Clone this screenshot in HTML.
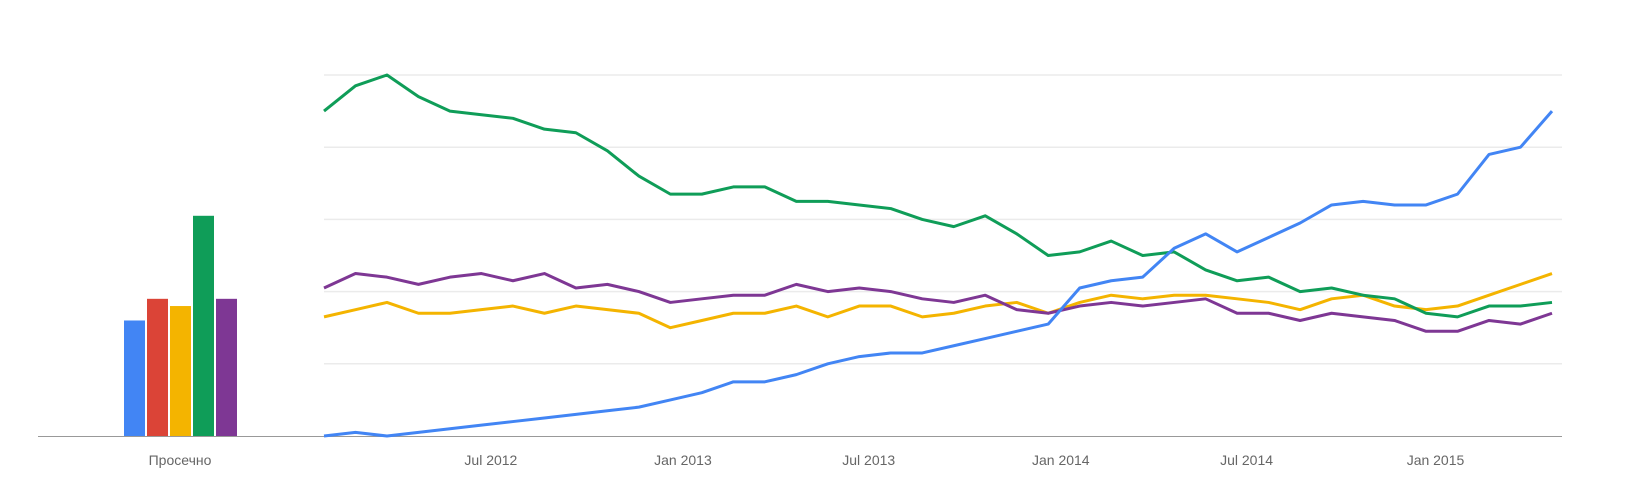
<!DOCTYPE html>
<html><head><meta charset="utf-8"><style>
html,body{margin:0;padding:0;background:#fff;}
svg{display:block;font-family:"Liberation Sans",Arial,sans-serif;}
</style></head><body>
<svg id="chart" width="1644" height="502" viewBox="0 0 1644 502" xmlns="http://www.w3.org/2000/svg"></svg>
<script>
const avgLabels = ['blue','red','yellow','green','purple'];
const avgValues = [32, 38, 36, 61, 38];
const avgColors = ['#4285f4','#db4437','#f4b400','#0f9d58','#7e3794'];
const gridValues = [20, 40, 60, 80, 100];
const xTickLabels = ['Jul 2012','Jan 2013','Jul 2013','Jan 2014','Jul 2014','Jan 2015'];
const xTickIndex = [5.3, 11.4, 17.3, 23.4, 29.3, 35.3];
const blueSeries = [0,1,0,1,2,3,4,5,6,7,8,10,12,15,15,17,20,22,23,23,25,27,29,31,41,43,44,52,56,51,55,59,64,65,64,64,67,78,80,90];
const greenSeries = [90,97,100,94,90,89,88,85,84,79,72,67,67,69,69,65,65,64,63,60,58,61,56,50,51,54,50,51,46,43,44,40,41,39,38,34,33,36,36,37];
const yellowSeries = [33,35,37,34,34,35,36,34,36,35,34,30,32,34,34,36,33,36,36,33,34,36,37,34,37,39,38,39,39,38,37,35,38,39,36,35,36,39,42,45];
const purpleSeries = [41,45,44,42,44,45,43,45,41,42,40,37,38,39,39,42,40,41,40,38,37,39,35,34,36,37,36,37,38,34,34,32,34,33,32,29,29,32,31,34];

const NS='http://www.w3.org/2000/svg';
const svg=document.getElementById('chart');
const baseY=436, plotTop=75, x0=324, x1=1552;
const yS=v=>baseY-(v/100)*(baseY-plotTop);
const n=blueSeries.length;
const xS=i=>x0+i*(x1-x0)/(n-1);
function mk(tag,attrs){const e=document.createElementNS(NS,tag);for(const k in attrs)e.setAttribute(k,attrs[k]);svg.appendChild(e);return e;}

gridValues.forEach(v=>{
  const g=mk('line',{x1:x0,x2:x1+10,y1:yS(v),y2:yS(v),stroke:'#ebebeb','stroke-width':1.5});
  
  
});
const bl=mk('line',{x1:38,x2:x1+10,y1:baseY+0.5,y2:baseY+0.5,stroke:'#999','stroke-width':1});



avgValues.forEach((v,i)=>{
  const bx=124+i*23;
  const r=mk('rect',{x:bx,y:yS(v),width:21,height:baseY-yS(v),fill:avgColors[i]});
  
  
});
const al=mk('text',{x:180,y:465,'text-anchor':'middle','font-size':14,fill:'#666'});
al.textContent='Просечно';



xTickLabels.forEach((t,i)=>{
  const e=mk('text',{x:xS(xTickIndex[i]),y:465,'text-anchor':'middle','font-size':14,fill:'#666'});
  e.textContent=t;
  
  
});

[['yellow',yellowSeries,'#f4b400'],['purple',purpleSeries,'#7e3794'],['green',greenSeries,'#0f9d58'],['blue',blueSeries,'#4285f4']].forEach(([nm,s,c])=>{
  const p=mk('polyline',{points:s.map((v,i)=>xS(i)+','+yS(v)).join(' '),fill:'none',stroke:c,'stroke-width':3,'stroke-linejoin':'round'});
  
  
});
</script>
</body></html>
